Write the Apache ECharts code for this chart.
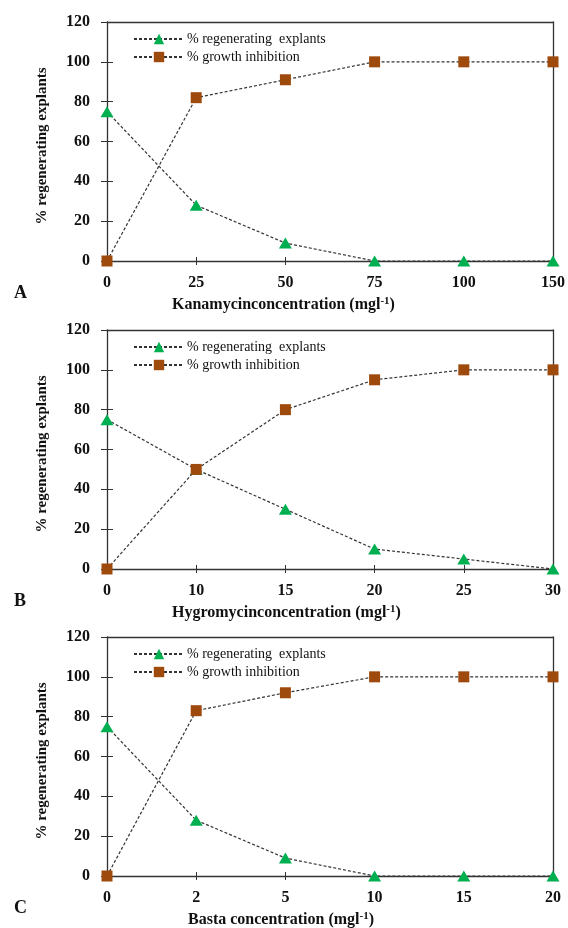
<!DOCTYPE html>
<html><head><meta charset="utf-8">
<script src="https://cdn.jsdelivr.net/npm/echarts@6/dist/echarts.min.js"></script>
<style>html,body{margin:0;padding:0;background:#fff}#c{width:568px;height:928px}</style>
</head><body><div id="c"></div>
<script>
// ---- data ----
const catsA = ['0','25','50','75','100','150'];
const catsB = ['0','10','15','20','25','30'];
const catsC = ['0','2','5','10','15','20'];
const regenA = [75, 28, 9, 0, 0, 0];
const growthA = [0, 82, 91, 100, 100, 100];
const regenB = [75, 50, 30, 10, 5, 0];
const growthB = [0, 50, 80, 95, 100, 100];
const regenC = [75, 28, 9, 0, 0, 0];
const growthC = [0, 83, 92, 100, 100, 100];
const xNames = ['Kanamycinconcentration (mgl', 'Hygromycinconcentration (mgl', 'Basta concentration (mgl'];
const letters = ['A','B','C'];
const yTicks = [0, 20, 40, 60, 80, 100, 120];
const nameRegen = '% regenerating  explants';
const nameGrowth = '% growth inhibition';

const panels = [
  {cats: catsA, regen: regenA, growth: growthA},
  {cats: catsB, regen: regenB, growth: growthB},
  {cats: catsC, regen: regenC, growth: growthC}
];
const tops = [22, 330, 637];
const nameLeft = [172, 172, 188];
const H = 239;
const FONT = '"Liberation Serif", "Times New Roman", serif';
const GREEN = '#00B050', BROWN = '#9E4A0C';

const grid = [], xAxis = [], yAxis = [], series = [], legend = [], graphic = [];
panels.forEach((p, i) => {
  grid.push({left: 107, right: 15, top: tops[i], height: H, containLabel: false});
  const axLine = {show: true, onZero: false, lineStyle: {color: '#333', width: 1.3}};
  xAxis.push({gridIndex: i, type: 'category', data: p.cats, boundaryGap: false, position: 'bottom',
    axisLine: axLine, axisTick: {show: true, inside: false, length: 4, lineStyle: {color: '#333'}},
    axisLabel: {fontFamily: FONT, fontWeight: 'bold', fontSize: 16, color: '#111', margin: 14},
    splitLine: {show: false}});
  xAxis.push({gridIndex: i, type: 'category', data: p.cats, boundaryGap: false, position: 'bottom',
    axisLine: {show: false, onZero: false}, axisTick: {show: true, inside: true, length: 4, lineStyle: {color: '#333'}},
    axisLabel: {show: false}, splitLine: {show: false}});
  xAxis.push({gridIndex: i, type: 'category', data: p.cats, boundaryGap: false, position: 'top',
    axisLine: axLine, axisTick: {show: false}, axisLabel: {show: false}, splitLine: {show: false}});
  yAxis.push({gridIndex: i, type: 'value', min: yTicks[0], max: yTicks[yTicks.length-1], interval: 20, position: 'left',
    axisLine: {show: true, onZero: false, lineStyle: {color: '#333', width: 1.3}},
    axisTick: {show: true, inside: false, length: 6, lineStyle: {color: '#333'}},
    axisLabel: {fontFamily: FONT, fontWeight: 'bold', fontSize: 16, color: '#111', margin: 17},
    splitLine: {show: false},
    name: '% regenerating explants', nameLocation: 'middle', nameGap: 57, nameRotate: 90,
    nameTextStyle: {fontFamily: FONT, fontWeight: 'bold', fontSize: 15, color: '#111', padding: [0, 9, 0, 0]}});
  yAxis.push({gridIndex: i, type: 'value', min: 0, max: 120, interval: 20, position: 'left',
    axisLine: {show: false, onZero: false}, axisTick: {show: true, inside: true, length: 6, lineStyle: {color: '#333'}},
    axisLabel: {show: false}, splitLine: {show: false}});
  yAxis.push({gridIndex: i, type: 'value', min: 0, max: 120, interval: 20, position: 'right',
    axisLine: axLine, axisTick: {show: false}, axisLabel: {show: false}, splitLine: {show: false}});
  const ls = {color: '#333', width: 1.2, type: [3, 2]};
  series.push({type: 'line', name: nameRegen, xAxisIndex: i*3, yAxisIndex: i*3, data: p.regen,
    symbol: 'triangle', symbolSize: [13, 11], itemStyle: {color: GREEN}, lineStyle: ls, clip: false, z: 3});
  series.push({type: 'line', name: nameGrowth, xAxisIndex: i*3, yAxisIndex: i*3, data: p.growth,
    symbol: 'rect', symbolSize: 11, itemStyle: {color: BROWN}, lineStyle: ls, clip: false, z: 4});
  legend.push({left: 128, top: tops[i] + 5, orient: 'vertical', itemWidth: 50, itemHeight: 13, itemGap: 4,
    data: [nameRegen, nameGrowth],
    textStyle: {fontFamily: FONT, fontSize: 14, color: '#111', padding: [0, 0, 0, -2]}});
  graphic.push({type: 'text', left: 14, top: tops[i] + H + 23,
    style: {text: letters[i], font: 'bold 18px ' + FONT, fill: '#111'}});
  graphic.push({type: 'text', left: nameLeft[i], top: tops[i] + H + 35,
    style: {text: '{a|' + xNames[i] + '}{s|-1}{a|)}',
      rich: {a: {font: 'bold 16px ' + FONT, fill: '#111'}, s: {font: 'bold 11px ' + FONT, fill: '#111', verticalAlign: 'top', padding: [0,0,6,0]}}}});
});

const chart = echarts.init(document.getElementById('c'));
chart.setOption({animation: false, grid, xAxis, yAxis, series, legend, graphic});
</script>
</body></html>
